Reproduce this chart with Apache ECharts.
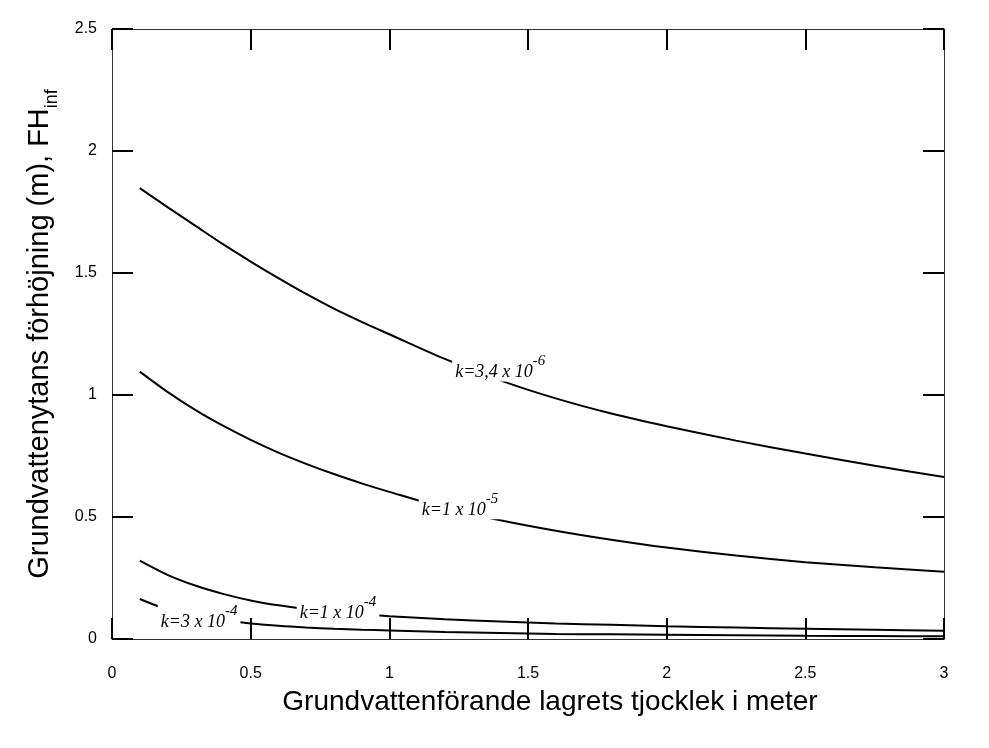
<!DOCTYPE html>
<html>
<head>
<meta charset="utf-8">
<script src="https://cdn.jsdelivr.net/npm/echarts@6/dist/echarts.min.js"></script>
<style>
html,body{margin:0;padding:0;background:#fff;}
#chart{width:989px;height:748px;}
</style>
</head>
<body>
<div id="chart"></div>
<script>
// Layer thickness (m)
var xs = [0.1,0.2,0.3,0.4,0.5,0.6,0.7,0.8,0.9,1.0,1.2,1.4,1.6,1.8,2.0,2.25,2.5,2.75,3.0];
// FH_inf (m) for each k
var k34e6 = [1.848,1.770,1.694,1.618,1.547,1.479,1.414,1.354,1.300,1.249,1.148,1.060,0.986,0.924,0.872,0.813,0.760,0.710,0.664];
var k1e5  = [1.096,1.013,0.939,0.874,0.816,0.764,0.718,0.676,0.638,0.603,0.538,0.487,0.444,0.407,0.375,0.342,0.315,0.294,0.276];
var k1e4  = [0.321,0.263,0.219,0.185,0.158,0.138,0.123,0.111,0.101,0.093,0.081,0.072,0.064,0.058,0.052,0.047,0.042,0.038,0.034];
var k3e4  = [0.164,0.121,0.095,0.077,0.064,0.054,0.047,0.042,0.038,0.035,0.029,0.025,0.021,0.019,0.017,0.015,0.013,0.012,0.011];
var seriesNames = ['k=3,4 x 10-6','k=1 x 10-5','k=1 x 10-4','k=3 x 10-4'];
var labelBase = ['k=3,4 x 10','k=1 x 10','k=1 x 10','k=3 x 10'];
var labelExp = ['-6','-5','-4','-4'];
var labelAt = [[1.40,1.113],[1.255,0.548],[0.815,0.125],[0.314,0.088]];
var xTicks = ['0','0.5','1','1.5','2','2.5','3'];
var yTicks = ['0','0.5','1','1.5','2','2.5'];

var allY = [k34e6,k1e5,k1e4,k3e4];

var chart = echarts.init(document.getElementById('chart'), null, {renderer:'canvas'});

var tickStyle = {show:true, inside:true, length:21, lineStyle:{color:'#000', width:2}};
var lineStyleAxis = {show:true, onZero:false, lineStyle:{color:'#333', width:1}};

var series = allY.map(function(ys, i){
  return {
    name: seriesNames[i],
    type: 'line',
    xAxisIndex: 0, yAxisIndex: 0,
    data: xs.map(function(x, j){ return [x, ys[j]]; }),
    smooth: 0.3,
    showSymbol: false,
    symbol: 'none',
    lineStyle: {color:'#000', width:2},
    silent: true,
    markPoint: {
      silent: true,
      symbol: 'circle',
      symbolSize: 1,
      itemStyle: {color:'rgba(0,0,0,0)'},
      data: [{coord: labelAt[i], value: 0}],
      label: {
        show: true,
        position: 'inside',
        formatter: '{b|' + labelBase[i] + '}{s|' + labelExp[i] + '}',
        backgroundColor: '#fff',
        padding: [0, 3, 0, 3],
        rich: {
          b: {fontFamily:'Liberation Serif', fontStyle:'italic', fontSize:18, color:'#000', lineHeight:28, verticalAlign:'bottom'},
          s: {fontFamily:'Liberation Serif', fontStyle:'italic', fontSize:15, color:'#000', lineHeight:14, verticalAlign:'top'}
        }
      }
    }
  };
});

var option = {
  backgroundColor: '#fff',
  animation: false,
  grid: {left:112, right:45, top:29, bottom:109, containLabel:false},
  xAxis: [{
    type:'value', min:0, max:3, interval:0.5, position:'bottom',
    axisLine: lineStyleAxis, axisTick: tickStyle, splitLine:{show:false},
    axisLabel: {margin:27, color:'#000', fontSize:16, fontFamily:'Liberation Sans',
      formatter: function(v){ return xTicks[Math.round(v/0.5)]; }},
    name: 'Grundvattenförande lagrets tjocklek i meter',
    nameLocation: 'middle', nameGap: 49,
    nameTextStyle: {fontSize:28, color:'#000', fontFamily:'Liberation Sans', padding:[0,0,0,44]}
  },{
    type:'value', min:0, max:3, interval:0.5, position:'top',
    axisLine: lineStyleAxis, axisTick: tickStyle, splitLine:{show:false},
    axisLabel: {show:false}
  }],
  yAxis: [{
    type:'value', min:0, max:2.5, interval:0.5, position:'left',
    axisLine: lineStyleAxis, axisTick: tickStyle, splitLine:{show:false},
    axisLabel: {margin:15, color:'#000', fontSize:16, fontFamily:'Liberation Sans',
      formatter: function(v){ return yTicks[Math.round(v/0.5)]; }},
    name: '{m|Grundvattenytans förhöjning (m), FH}{u|inf}',
    nameLocation: 'middle', nameGap: 51,
    nameTextStyle: {
      color:'#000',
      rich: {
        m: {fontSize:29, fontFamily:'Liberation Sans', color:'#000', lineHeight:36, verticalAlign:'top'},
        u: {fontSize:18, fontFamily:'Liberation Sans', color:'#000', lineHeight:16, verticalAlign:'bottom'}
      }
    }
  },{
    type:'value', min:0, max:2.5, interval:0.5, position:'right',
    axisLine: lineStyleAxis, axisTick: tickStyle, splitLine:{show:false},
    axisLabel: {show:false}
  }],
  series: series
};
chart.setOption(option);
</script>
</body>
</html>
